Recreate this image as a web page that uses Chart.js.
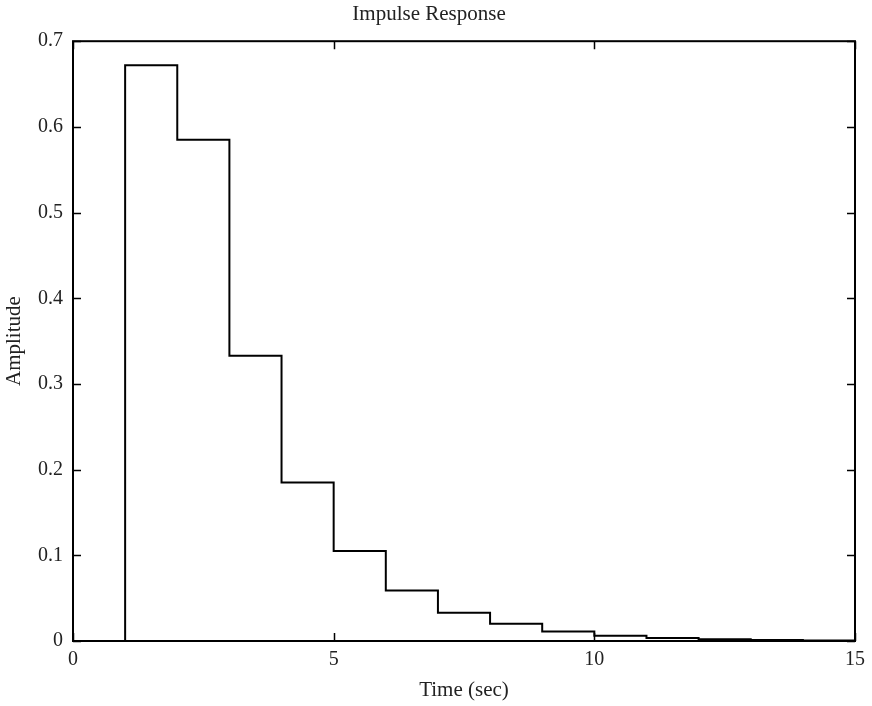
<!DOCTYPE html>
<html>
<head>
<meta charset="utf-8">
<script src="https://cdn.jsdelivr.net/npm/chart.js@4.4.1/dist/chart.umd.min.js"></script>
<style>
    html, body { margin: 0; padding: 0; background: #fff; }
    #wrap { width: 872px; height: 706px; }
</style>
</head>
<body>
<div id="wrap"><canvas id="impulseChart"></canvas></div>
<script>
/* --- Data --- */
const timeSec = [0, 1, 2, 3, 4, 5, 6, 7, 8, 9, 10, 11, 12, 13, 14, 15];
const amplitude = [0, 0.672, 0.585, 0.333, 0.185, 0.105, 0.059, 0.033, 0.020, 0.011, 0.006, 0.0035, 0.002, 0.0011, 0.0006, 0.0003];
const xTickValues = [0, 5, 10, 15];
const yTickValues = [0, 0.1, 0.2, 0.3, 0.4, 0.5, 0.6, 0.7];

const SERIF = "'Liberation Serif', 'DejaVu Serif', serif";

// Box frame + inward tick marks (MATLAB style)
const frameTicks = {
    id: 'frameTicks',
    afterDatasetsDraw(chart) {
        const { ctx, chartArea: a, scales: { x, y } } = chart;
        const len = 8;
        ctx.save();
        ctx.strokeStyle = '#000';
        ctx.lineWidth = 1.5;
        x.ticks.forEach(t => {
            const px = Math.round(x.getPixelForValue(t.value)) + 0.5;
            ctx.beginPath();
            ctx.moveTo(px, a.bottom); ctx.lineTo(px, a.bottom - len);
            ctx.moveTo(px, a.top); ctx.lineTo(px, a.top + len);
            ctx.stroke();
        });
        y.ticks.forEach(t => {
            const py = Math.round(y.getPixelForValue(t.value)) + 0.5;
            ctx.beginPath();
            ctx.moveTo(a.left, py); ctx.lineTo(a.left + len, py);
            ctx.moveTo(a.right, py); ctx.lineTo(a.right - len, py);
            ctx.stroke();
        });
        ctx.lineWidth = 2;
        ctx.strokeRect(a.left, a.top, a.right - a.left, a.bottom - a.top);
        ctx.restore();
    }
};

new Chart(document.getElementById('impulseChart'), {
    type: 'line',
    data: {
        datasets: [{
            data: timeSec.map((t, i) => ({ x: t, y: amplitude[i] })),
            borderColor: '#000',
            borderWidth: 2,
            stepped: 'before',
            pointRadius: 0,
            fill: false
        }]
    },
    options: {
        responsive: true,
        maintainAspectRatio: false,
        animation: false,
        layout: { padding: { left: 0, right: 14, top: 0, bottom: 0 } },
        plugins: {
            legend: { display: false },
            tooltip: { enabled: false },
            title: {
                display: true,
                text: 'Impulse Response',
                color: '#222',
                font: { family: SERIF, size: 21, weight: 'normal' },
                padding: { top: 2, bottom: 14 }
            }
        },
        scales: {
            x: {
                type: 'linear',
                min: 0,
                max: 15,
                afterBuildTicks: s => { s.ticks = xTickValues.map(v => ({ value: v })); },
                afterFit: s => { s.height = 65; },
                grid: { display: false, drawTicks: false },
                border: { display: false },
                ticks: {
                    color: '#222',
                    padding: 7,
                    maxRotation: 0,
                    font: { family: SERIF, size: 20 }
                },
                title: {
                    display: true,
                    text: 'Time (sec)',
                    color: '#222',
                    font: { family: SERIF, size: 21 },
                    padding: { top: 4, bottom: 3 }
                }
            },
            y: {
                type: 'linear',
                min: 0,
                max: 0.7,
                afterBuildTicks: s => { s.ticks = yTickValues.map(v => ({ value: v })); },
                afterFit: s => { s.width = 73; },
                grid: { display: false, drawTicks: false },
                border: { display: false },
                ticks: {
                    color: '#222',
                    padding: 10,
                    font: { family: SERIF, size: 20 },
                    callback: v => String(+v.toFixed(1))
                },
                title: {
                    display: true,
                    text: 'Amplitude',
                    color: '#222',
                    font: { family: SERIF, size: 21 },
                    padding: { top: 2, bottom: 4 }
                }
            }
        }
    },
    plugins: [frameTicks]
});
</script>
</body>
</html>
